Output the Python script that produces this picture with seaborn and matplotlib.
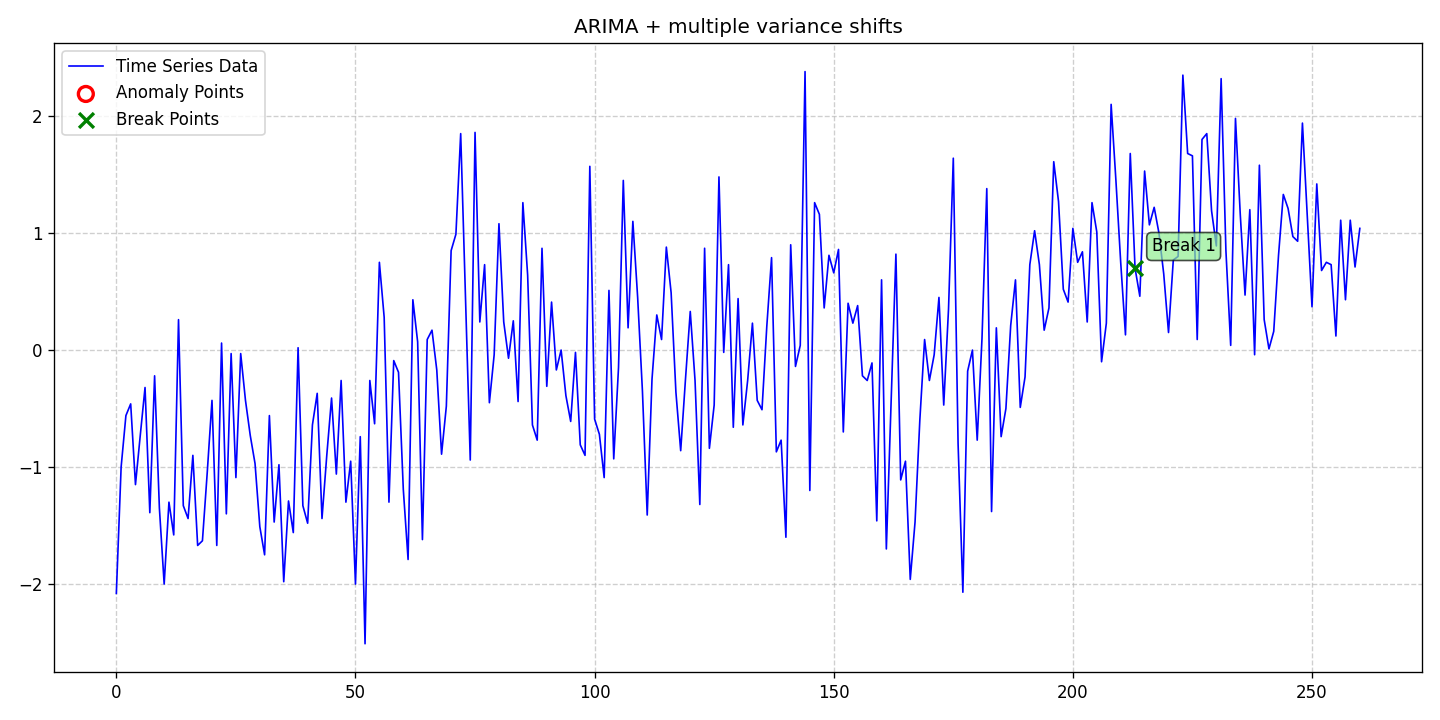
import matplotlib
matplotlib.use("Agg")
import matplotlib.pyplot as plt
import seaborn as sns
import numpy as np
import pandas as pd

title = "ARIMA + multiple variance shifts"

series_values = [
    -2.08, -1.00, -0.56, -0.46, -1.15, -0.73, -0.32, -1.39, -0.22, -1.35,
    -2.00, -1.30, -1.58, 0.26, -1.33, -1.44, -0.90, -1.67, -1.63, -1.05,
    -0.43, -1.67, 0.06, -1.40, -0.03, -1.09, -0.03, -0.43, -0.73, -0.97,
    -1.51, -1.75, -0.56, -1.47, -0.98, -1.98, -1.29, -1.56, 0.02, -1.33,
    -1.48, -0.64, -0.37, -1.44, -0.90, -0.41, -1.06, -0.26, -1.30, -0.95,
    -2.00, -0.74, -2.51, -0.26, -0.63, 0.75, 0.28, -1.30, -0.09, -0.19,
    -1.19, -1.79, 0.43, 0.07, -1.62, 0.09, 0.17, -0.17, -0.89, -0.48,
    0.85, 0.99, 1.85, 0.45, -0.94, 1.86, 0.24, 0.73, -0.45, -0.04,
    1.08, 0.24, -0.07, 0.25, -0.44, 1.26, 0.64, -0.64, -0.77, 0.87,
    -0.31, 0.41, -0.17, 0.00, -0.39, -0.61, -0.02, -0.81, -0.90, 1.57,
    -0.59, -0.72, -1.09, 0.51, -0.93, -0.15, 1.45, 0.19, 1.10, 0.45,
    -0.35, -1.41, -0.25, 0.30, 0.09, 0.88, 0.49, -0.36, -0.86, -0.25,
    0.33, -0.26, -1.32, 0.87, -0.84, -0.47, 1.48, -0.02, 0.73, -0.66,
    0.44, -0.64, -0.26, 0.23, -0.43, -0.51, 0.20, 0.79, -0.87, -0.77,
    -1.60, 0.90, -0.14, 0.04, 2.38, -1.20, 1.26, 1.16, 0.36, 0.81,
    0.66, 0.86, -0.70, 0.40, 0.23, 0.38, -0.22, -0.26, -0.11, -1.46,
    0.60, -1.70, -0.45, 0.82, -1.11, -0.95, -1.96, -1.47, -0.60, 0.09,
    -0.26, -0.04, 0.45, -0.47, 0.35, 1.64, -0.80, -2.07, -0.18, 0.00,
    -0.77, 0.10, 1.38, -1.38, 0.19, -0.74, -0.50, 0.21, 0.60, -0.49,
    -0.23, 0.73, 1.02, 0.73, 0.17, 0.36, 1.61, 1.27, 0.52, 0.41,
    1.04, 0.75, 0.84, 0.24, 1.26, 1.01, -0.10, 0.23, 2.10, 1.45,
    0.75, 0.13, 1.68, 0.70, 0.46, 1.53, 1.07, 1.22, 1.00, 0.65,
    0.15, 0.77, 0.80, 2.35, 1.68, 1.66, 0.09, 1.80, 1.85, 1.19,
    0.89, 2.32, 0.85, 0.04, 1.98, 1.16, 0.47, 1.20, -0.04, 1.58,
    0.26, 0.01, 0.16, 0.81, 1.33, 1.21, 0.97, 0.93, 1.94, 1.15,
    0.37, 1.42, 0.68, 0.75, 0.73, 0.12, 1.11, 0.43, 1.11, 0.71,
    1.04,
]
time_index = list(range(len(series_values)))

anomaly_x = []
anomaly_y = []

break_x = [213]
break_labels = ["Break 1"]

df = pd.DataFrame({"t": time_index, "value": series_values})
break_y = [series_values[i] for i in break_x]

plt.style.use("default")
plt.rcParams["font.family"] = ["DejaVu Sans"]

fig, ax = plt.subplots(figsize=(12, 6), dpi=120)

sns.lineplot(data=df, x="t", y="value", ax=ax, color="blue", linewidth=1,
             label="Time Series Data")
ax.scatter(anomaly_x, anomaly_y, s=80, facecolors="none", edgecolors="red",
           linewidths=2, label="Anomaly Points", zorder=5)
sns.scatterplot(x=break_x, y=break_y, ax=ax, marker="x", color="green", s=80,
                linewidth=2, label="Break Points", zorder=5)

for bx, by, lab in zip(break_x, break_y, break_labels):
    ax.annotate(lab, (bx, by), xytext=(10, 10), textcoords="offset points",
                bbox=dict(boxstyle="round,pad=0.3", fc="lightgreen", alpha=0.7))

ax.set_title(title)
ax.set_xlabel("")
ax.set_ylabel("")
ax.grid(True, linestyle="--", alpha=0.6)
ax.legend(loc="upper left")

fig.tight_layout()
fig.savefig("out.png", dpi=120)
